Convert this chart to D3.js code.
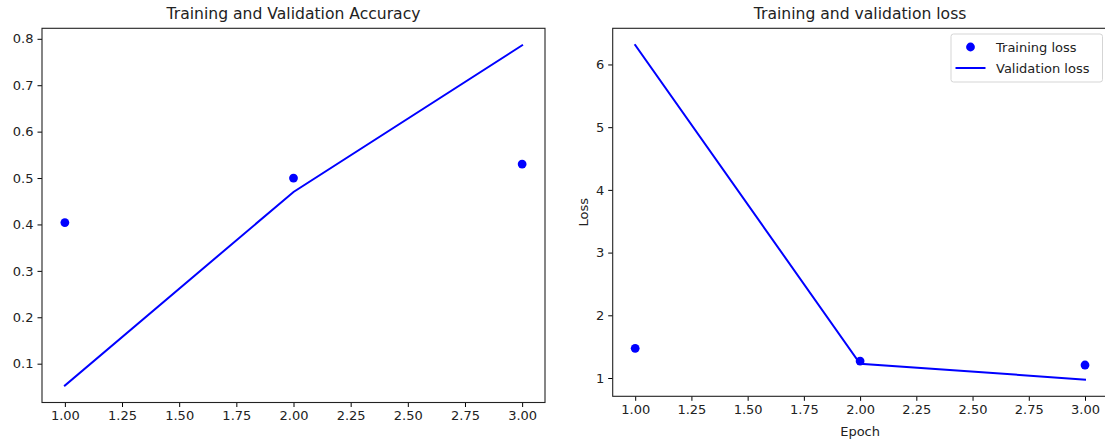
<!DOCTYPE html>
<html>
<head>
<meta charset="utf-8">
<script src="https://cdn.jsdelivr.net/npm/d3@7"></script>
<style>
  html, body { margin: 0; padding: 0; background: #fff; }
  svg { display: block; font-family: "DejaVu Sans", sans-serif; }
</style>
</head>
<body>
<svg id="chart" width="1105" height="441"></svg>
<script>
// ---- data ----
const epochs = [1, 2, 3];
const trainAcc = [0.404, 0.500, 0.530];
const valAcc = [0.053, 0.470, 0.786];
const trainLoss = [1.474, 1.270, 1.207];
const valLoss = [6.31, 1.228, 0.975];
const xTicks = [1.00, 1.25, 1.50, 1.75, 2.00, 2.25, 2.50, 2.75, 3.00];
const accTicks = [0.1, 0.2, 0.3, 0.4, 0.5, 0.6, 0.7, 0.8];
const lossTicks = [1, 2, 3, 4, 5, 6];
const legendLabels = ["Training loss", "Validation loss"];

const svg = d3.select("#chart");
const BLUE = "#0000ff";
const FS = 13, TFS = 15.6;

function padDomain(vals, frac) {
  const mn = d3.min(vals), mx = d3.max(vals);
  const p = (mx - mn) * frac;
  return [mn - p, mx + p];
}

function panel(opts) {
  const g = svg.append("g");
  const x = d3.scaleLinear().domain(padDomain(epochs, 0.05)).range([opts.left, opts.right]);
  const y = d3.scaleLinear().domain(padDomain(opts.train.concat(opts.val), 0.05)).range([opts.bottom, opts.top]);

  const line = d3.line().x((d, i) => x(epochs[i])).y(d => y(d));
  g.append("path").datum(opts.val)
    .attr("d", line).attr("fill", "none")
    .attr("stroke", BLUE).attr("stroke-width", 2).attr("stroke-linecap", "square");

  g.selectAll("circle.pt").data(opts.train).enter().append("circle")
    .attr("class", "pt")
    .attr("cx", (d, i) => x(epochs[i])).attr("cy", d => y(d))
    .attr("r", 4.4).attr("fill", BLUE);

  const xAxis = d3.axisBottom(x).tickValues(xTicks).tickFormat(d3.format(".2f")).tickSize(4.5).tickPadding(4).tickSizeOuter(0);
  const yAxis = d3.axisLeft(y).tickValues(opts.yTicks).tickFormat(opts.yFmt).tickSize(4.5).tickPadding(4).tickSizeOuter(0);
  const gx = g.append("g").attr("transform", `translate(0,${opts.bottom})`).call(xAxis);
  const gy = g.append("g").attr("transform", `translate(${opts.left},0)`).call(yAxis);
  [gx, gy].forEach(a => {
    a.select(".domain").remove();
    a.selectAll("line").attr("stroke", "#000").attr("stroke-width", 1);
    a.selectAll("text").attr("font-size", FS).attr("fill", "#222").attr("font-family", "DejaVu Sans");
  });

  g.append("rect").attr("x", opts.left).attr("y", opts.top)
    .attr("width", opts.right - opts.left).attr("height", opts.bottom - opts.top)
    .attr("fill", "none").attr("stroke", "#222").attr("stroke-width", 1.1);

  g.append("text").attr("x", (opts.left + opts.right) / 2).attr("y", 19)
    .attr("text-anchor", "middle").attr("font-size", TFS).attr("fill", "#222")
    .text(opts.title);

  return { g, x, y };
}

panel({
  left: 42, right: 545, top: 28.3, bottom: 402.5,
  train: trainAcc, val: valAcc, yTicks: accTicks, yFmt: d3.format(".1f"),
  title: "Training and Validation Accuracy"
});

panel({
  left: 612.7, right: 1107.5, top: 28.3, bottom: 396.3,
  train: trainLoss, val: valLoss, yTicks: lossTicks, yFmt: d3.format("d"),
  title: "Training and validation loss"
});

svg.append("text").attr("x", (612.7 + 1107.5) / 2).attr("y", 436)
  .attr("text-anchor", "middle").attr("font-size", FS).attr("fill", "#222").text("Epoch");
svg.append("text").attr("transform", `translate(588,${(28.3 + 396.3) / 2}) rotate(-90)`)
  .attr("text-anchor", "middle").attr("font-size", FS).attr("fill", "#222").text("Loss");

const lg = svg.append("g");
lg.append("rect").attr("x", 951).attr("y", 34).attr("width", 151.5).attr("height", 48)
  .attr("rx", 2.5).attr("fill", "#fff").attr("fill-opacity", 0.8)
  .attr("stroke", "#d5d5d5").attr("stroke-width", 1);
lg.append("circle").attr("cx", 970.5).attr("cy", 47).attr("r", 4.4).attr("fill", BLUE);
lg.append("line").attr("x1", 955.5).attr("x2", 985.5).attr("y1", 68).attr("y2", 68)
  .attr("stroke", BLUE).attr("stroke-width", 2);
lg.selectAll("text.lab").data(legendLabels).enter().append("text")
  .attr("class", "lab")
  .attr("x", 996).attr("y", (d, i) => 51.5 + i * 21.5)
  .attr("font-size", FS).attr("fill", "#222").text(d => d);
</script>
</body>
</html>
